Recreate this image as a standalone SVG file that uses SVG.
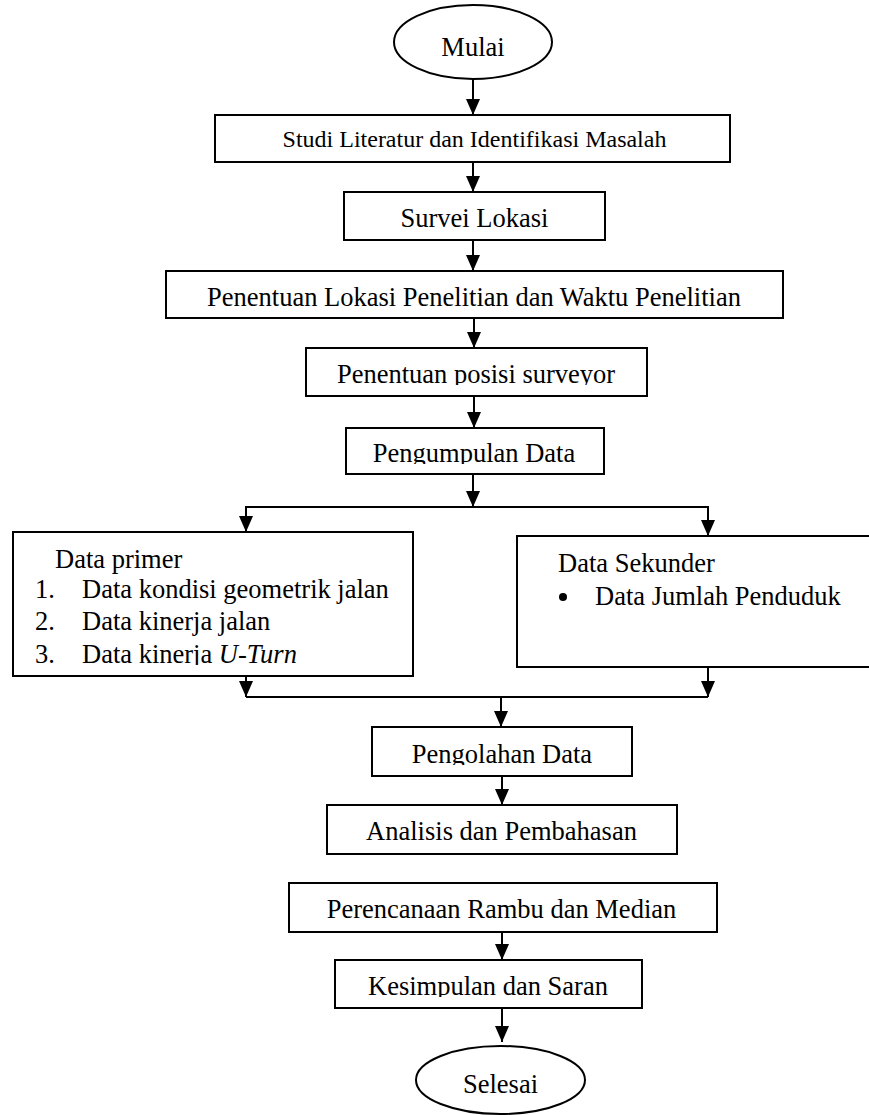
<svg xmlns="http://www.w3.org/2000/svg" width="869" height="1115" viewBox="0 0 869 1115">
<style>
.box{fill:#fff;stroke:#000;stroke-width:2}
.t{font-family:"Liberation Serif","Times New Roman",serif;font-size:26.5px;fill:#000}
.c{text-anchor:middle}
.ln{fill:none;stroke:#000;stroke-width:2}
</style>
<defs>
<marker id="ah" markerWidth="16" markerHeight="14" refX="16" refY="7" orient="auto" markerUnits="userSpaceOnUse" viewBox="0 0 16 14">
<path d="M0,0 L16,7 L0,14 Z" fill="#000"/>
</marker>
<clipPath id="c4"><rect x="300" y="340" width="360" height="45"/></clipPath>
<clipPath id="c5"><rect x="340" y="420" width="270" height="44"/></clipPath>
<clipPath id="c9"><rect x="360" y="720" width="280" height="45"/></clipPath>
<clipPath id="c12"><rect x="330" y="950" width="320" height="47"/></clipPath>
<clipPath id="cl3"><rect x="20" y="630" width="390" height="35"/></clipPath>
</defs>

<g id="connectors">
<line class="ln" x1="473" y1="79" x2="473" y2="115" marker-end="url(#ah)"/>
<line class="ln" x1="473" y1="162" x2="473" y2="192" marker-end="url(#ah)"/>
<line class="ln" x1="473" y1="240" x2="473" y2="271" marker-end="url(#ah)"/>
<line class="ln" x1="474" y1="318" x2="474" y2="348" marker-end="url(#ah)"/>
<line class="ln" x1="474" y1="396" x2="474" y2="428" marker-end="url(#ah)"/>
<line class="ln" x1="473" y1="474" x2="473" y2="507" marker-end="url(#ah)"/>
<polyline class="ln" points="246,520 246,507 708,507 708,520"/>
<line class="ln" x1="246" y1="515" x2="246" y2="532" marker-end="url(#ah)"/>
<line class="ln" x1="708" y1="515" x2="708" y2="536" marker-end="url(#ah)"/>
<line class="ln" x1="246" y1="676" x2="246" y2="697" marker-end="url(#ah)"/>
<line class="ln" x1="708" y1="667" x2="708" y2="697" marker-end="url(#ah)"/>
<line class="ln" x1="246" y1="697" x2="708" y2="697"/>
<line class="ln" x1="501" y1="697" x2="501" y2="727" marker-end="url(#ah)"/>
<line class="ln" x1="502" y1="776" x2="502" y2="805" marker-end="url(#ah)"/>
<line class="ln" x1="502" y1="932" x2="502" y2="960" marker-end="url(#ah)"/>
<line class="ln" x1="502" y1="1008" x2="502" y2="1042" marker-end="url(#ah)"/>
</g>

<g id="mulai">
<ellipse class="box" cx="473" cy="42" rx="79" ry="37"/>
<text class="t c" x="473" y="56">Mulai</text>
</g>

<g id="studi">
<rect class="box" x="215" y="115" width="515" height="47"/>
<text class="t c" x="474.5" y="147" style="font-size:24px">Studi Literatur dan Identifikasi Masalah</text>
</g>

<g id="survei">
<rect class="box" x="344" y="192" width="261" height="48"/>
<text class="t c" x="474.5" y="227">Survei Lokasi</text>
</g>

<g id="penentuan-lokasi">
<rect class="box" x="166" y="271" width="617" height="47"/>
<text class="t c" x="474" y="306">Penentuan Lokasi Penelitian dan Waktu Penelitian</text>
</g>

<g id="penentuan-posisi">
<rect class="box" x="306" y="348" width="341" height="48"/>
<text class="t c" x="476" y="383" clip-path="url(#c4)">Penentuan posisi surveyor</text>
</g>

<g id="pengumpulan">
<rect class="box" x="346" y="428" width="258" height="46"/>
<text class="t c" x="474" y="462" clip-path="url(#c5)">Pengumpulan Data</text>
</g>

<g id="data-primer">
<rect class="box" x="13" y="532" width="400" height="144"/>
<text class="t" x="55" y="568">Data primer</text>
<text class="t" x="35" y="598">1.</text>
<text class="t" x="82" y="598">Data kondisi geometrik jalan</text>
<text class="t" x="35" y="630">2.</text>
<text class="t" x="82" y="630">Data kinerja jalan</text>
<text class="t" x="35" y="663" clip-path="url(#cl3)">3.</text>
<text class="t" x="82" y="663" clip-path="url(#cl3)">Data kinerja <tspan font-style="italic">U-Turn</tspan></text>
</g>

<g id="data-sekunder">
<rect class="box" x="517" y="536" width="356" height="131"/>
<text class="t" x="558" y="572">Data Sekunder</text>
<circle cx="563" cy="597" r="4" fill="#000"/>
<text class="t" x="595" y="605">Data Jumlah Penduduk</text>
</g>

<g id="pengolahan">
<rect class="box" x="372" y="727" width="260" height="49"/>
<text class="t c" x="502" y="763" clip-path="url(#c9)">Pengolahan Data</text>
</g>

<g id="analisis">
<rect class="box" x="327" y="805" width="350" height="49"/>
<text class="t c" x="501.5" y="840">Analisis dan Pembahasan</text>
</g>

<g id="perencanaan">
<rect class="box" x="289" y="883" width="428" height="49"/>
<text class="t c" x="501.5" y="918">Perencanaan Rambu dan Median</text>
</g>

<g id="kesimpulan">
<rect class="box" x="335" y="960" width="307" height="48"/>
<text class="t c" x="488" y="995" clip-path="url(#c12)">Kesimpulan dan Saran</text>
</g>

<g id="selesai">
<ellipse class="box" cx="500.5" cy="1080" rx="84.5" ry="34"/>
<text class="t c" x="500.5" y="1093">Selesai</text>
</g>
</svg>
